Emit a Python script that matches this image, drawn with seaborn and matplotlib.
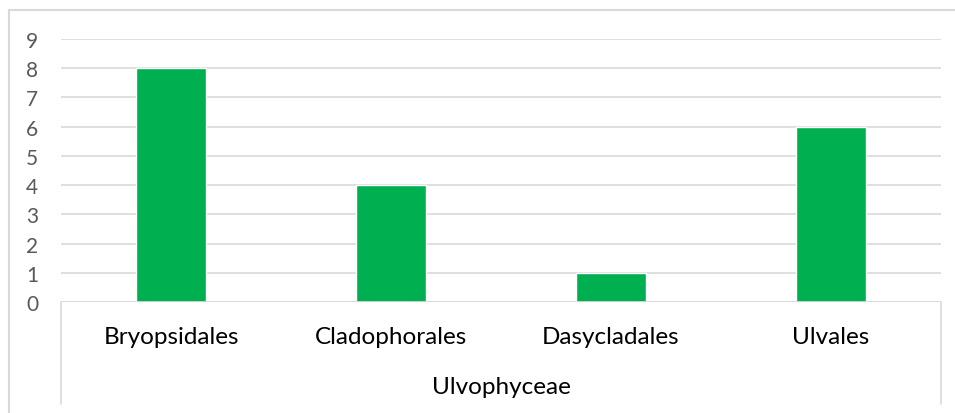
import matplotlib
matplotlib.use("Agg")
import matplotlib.pyplot as plt
import seaborn as sns
import pandas as pd
from matplotlib.lines import Line2D

categories = ["Bryopsidales", "Cladophorales", "Dasycladales", "Ulvales"]
values = [8, 4, 1, 6]
group_label = "Ulvophyceae"
yticks = [0, 1, 2, 3, 4, 5, 6, 7, 8, 9]

sns.set_theme(style="white")
plt.rcParams['font.family'] = ['Lato', 'DejaVu Sans']

W, H = 955, 414
fig = plt.figure(figsize=(W / 100, H / 100), dpi=100)
left, right, top, bottom = 61, 941, 40, 303
ax = fig.add_axes([left / W, 1 - bottom / H, (right - left) / W, (bottom - top) / H])

df = pd.DataFrame({"cat": categories, "val": values})
sns.barplot(data=df, x="cat", y="val", color="#00B050", width=0.318,
            saturation=1, ax=ax, zorder=3)

ax.set_ylim(0, 9)
ax.set_xlim(-0.5, len(categories) - 0.5)
ax.set_yticks(yticks)
ax.set_yticklabels([str(t) for t in yticks], fontsize=15, color="#595959")
ax.yaxis.grid(True, color="#D9D9D9", linewidth=1.2, zorder=0)
ax.set_axisbelow(True)
for s in ax.spines.values():
    s.set_visible(False)
ax.tick_params(axis="y", length=0, pad=16.5)
ax.tick_params(axis="x", length=0, pad=0)
ax.set_xticks(range(len(categories)))
ax.set_xticklabels([])
ax.set_xlabel("")
ax.set_ylabel("")
ax.set_facecolor("none")

# category labels (first level)
for i, c in enumerate(categories):
    xc = left + (i + 0.5) * (right - left) / len(categories)
    fig.text(xc / W, 1 - 338 / H, c, ha="center", va="center", fontsize=17.5, color="#000000")

# bottom axis line & group separators
ax.axhline(0, color="#D9D9D9", linewidth=1.2, zorder=4)
for xp in (left, right):
    fig.add_artist(Line2D([xp / W, xp / W], [1 - bottom / H, 1 - 405 / H],
                          color="#D9D9D9", linewidth=1.2))
fig.text((left + right) / 2 / W, 1 - 388 / H, group_label, ha="center", va="center",
         fontsize=17.5, color="#000000")

# chart border (cropped)
fig.add_artist(Line2D([9 / W, 1.0], [1 - 11 / H, 1 - 11 / H], color="#D9D9D9", linewidth=1.5))
fig.add_artist(Line2D([9 / W, 9 / W], [1 - 11 / H, 0], color="#D9D9D9", linewidth=1.5))

fig.savefig("out.png", dpi=100)
